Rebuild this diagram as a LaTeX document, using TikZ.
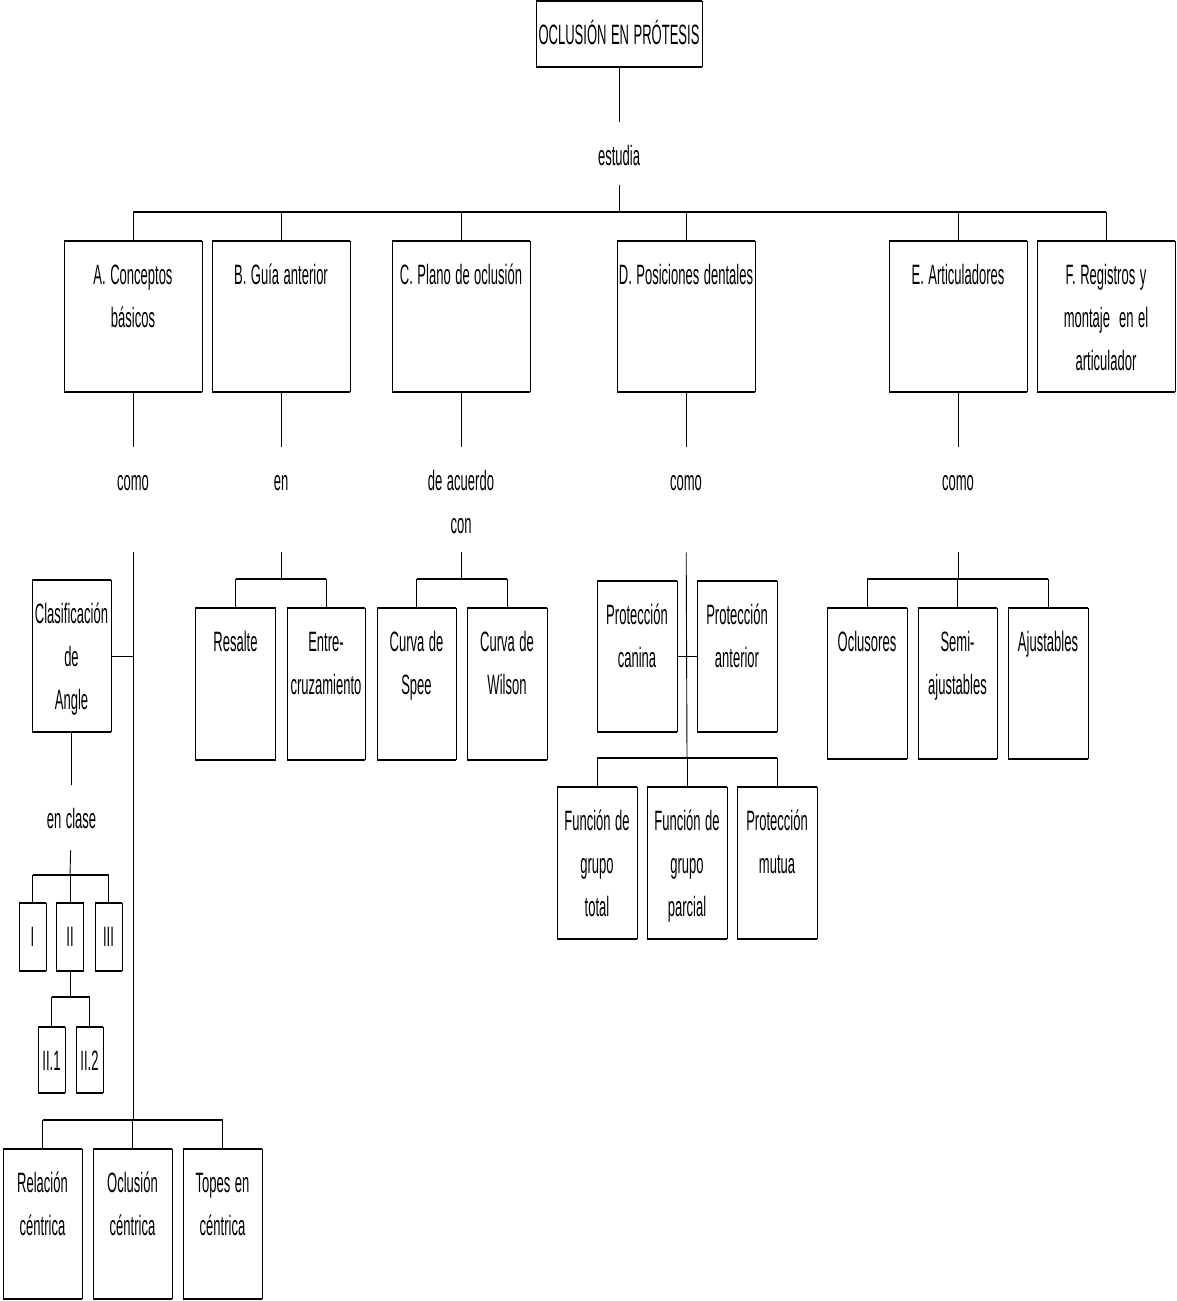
\documentclass[tikz,border=0pt]{standalone}
\usepackage{fontspec}
\setmainfont{Liberation Sans}[FakeStretch=0.465]
\newcommand{\letra}{\fontsize{28}{43}\selectfont\spaceskip=4.5pt plus 1pt\relax}

\begin{document}
\begin{tikzpicture}[x=1pt, y=-1pt,
  font=\letra,
  fino/.style={line width=0.9pt},
  grueso/.style={line width=2.6pt},
  caja/.style 2 args={draw, line width=0.9pt, anchor=north, inner sep=0pt,
    text width=#1, align=flush center, text height=43pt, text depth=#2},
  rotulo/.style={anchor=north, inner sep=0pt, text width=120pt, align=flush center,
    text height=43pt, text depth=#1}]
  \useasboundingbox (0,0) rectangle (1176,1301);

  % Titulo
  \node[caja={166pt}{22pt}] (oclusion) at (619,1) {OCLUSIÓN EN PRÓTESIS};
  \node[rotulo=20pt] (estudia) at (619,122) {estudia};
  \coordinate (b0) at (619,212);

  % Temas A--F
  \node[caja={138pt}{107pt}] (concA) at (133,241) {A. Conceptos\\básicos};
  \node[caja={138pt}{107pt}] (guiaB) at (281,241) {B. Guía anterior};
  \node[caja={138pt}{107pt}] (planoC) at (461,241) {C. Plano de oclusión};
  \node[caja={138pt}{107pt}] (posD) at (686,241) {D. Posiciones dentales};
  \node[caja={138pt}{107pt}] (artE) at (958,241) {E. Articuladores};
  \node[caja={138pt}{107pt}] (regF) at (1106,241) {F. Registros y\\montaje\ \ en el\\articulador};

  \node[rotulo=62pt] (comoA) at (133,447) {como};
  \node[rotulo=62pt] (enB) at (281,447) {en};
  \node[rotulo=62pt] (acuerdoC) at (461,447) {de acuerdo\\con};
  \node[rotulo=62pt] (comoD) at (686,447) {como};
  \node[rotulo=62pt] (comoE) at (958,447) {como};

  % A. Conceptos basicos
  \node[caja={79pt}{108pt}] (angle) at (71.5,580) {Clasificación\\de\\Angle};
  \node[rotulo=22pt] (clase) at (71.5,785) {en clase};
  \coordinate (b1) at (70,875);
  \node[caja={27pt}{24pt}] (c1) at (32.5,903) {I};
  \node[caja={27pt}{24pt}] (c2) at (70,903) {II};
  \node[caja={27pt}{24pt}] (c3) at (108.5,903) {III};
  \coordinate (b2) at (70,997);
  \node[caja={27pt}{22pt}] (c21) at (51.5,1027) {II.1};
  \node[caja={27pt}{22pt}] (c22) at (89.5,1027) {II.2};
  \coordinate (b3) at (133,1120);
  \node[caja={79pt}{106pt}] (relacion) at (42.5,1149) {Relación\\céntrica};
  \node[caja={79pt}{106pt}] (ocluc) at (132.5,1149) {Oclusión\\céntrica};
  \node[caja={79pt}{106pt}] (topes) at (222.5,1149) {Topes en\\céntrica};

  % B. Guia anterior
  \coordinate (b4) at (281,579);
  \node[caja={80pt}{108pt}] (resalte) at (235.5,608) {Resalte};
  \node[caja={78pt}{108pt}] (entre) at (326,608) {Entre-\\cruzamiento};

  % C. Plano de oclusion
  \coordinate (b5) at (461,579);
  \node[caja={79pt}{108pt}] (spee) at (416.5,608) {Curva de\\Spee};
  \node[caja={80pt}{108pt}] (wilson) at (507,608) {Curva de\\Wilson};

  % D. Posiciones dentales
  \node[caja={80pt}{107pt}] (canina) at (637,581) {Protección\\canina};
  \node[caja={80pt}{107pt}] (anterior) at (737,581) {Protección\\anterior};
  \coordinate (b6) at (687,758);
  \node[caja={80pt}{108pt}] (total) at (597,787) {Función de\\grupo\\total};
  \node[caja={80pt}{108pt}] (parcial) at (687,787) {Función de\\grupo\\parcial};
  \node[caja={80pt}{108pt}] (mutua) at (777,787) {Protección\\mutua};

  % E. Articuladores
  \coordinate (b7) at (958,579);
  \node[caja={80pt}{107pt}] (oclusores) at (867,608) {Oclusores};
  \node[caja={79pt}{107pt}] (semi) at (957.5,608) {Semi-\\ajustables};
  \node[caja={80pt}{107pt}] (ajust) at (1048,608) {Ajustables};

  % conectores
  \draw[fino] (oclusion) -- (estudia) (estudia) -- (b0);
  \draw[grueso] (b0 -| concA.north) -- (b0 -| regF.north);
  \foreach \n in {concA,guiaB,planoC,posD,artE,regF}
    \draw[fino] (b0 -| \n.north) -- (\n.north);
  \foreach \a/\b in {concA/comoA,guiaB/enB,planoC/acuerdoC,posD/comoD,artE/comoE}
    \draw[fino] (\a) -- (\b);

  \draw[fino] (comoA) -- (b3);
  \draw[fino] (angle) -- (angle -| b3);
  \draw[fino] (angle) -- (clase) (clase) -- (b1);
  \draw[grueso] (b1 -| c1.north) -- (b1 -| c3.north);
  \foreach \n in {c1,c2,c3}
    \draw[fino] (b1 -| \n.north) -- (\n.north);
  \draw[fino] (c2) -- (b2);
  \draw[grueso] (b2 -| c21.north) -- (b2 -| c22.north);
  \foreach \n in {c21,c22}
    \draw[fino] (b2 -| \n.north) -- (\n.north);
  \draw[grueso] (b3 -| relacion.north) -- (b3 -| topes.north);
  \foreach \n in {relacion,ocluc,topes}
    \draw[fino] (b3 -| \n.north) -- (\n.north);

  \draw[fino] (enB) -- (b4);
  \draw[grueso] (b4 -| resalte.north) -- (b4 -| entre.north);
  \foreach \n in {resalte,entre}
    \draw[fino] (b4 -| \n.north) -- (\n.north);

  \draw[fino] (acuerdoC) -- (b5);
  \draw[grueso] (b5 -| spee.north) -- (b5 -| wilson.north);
  \foreach \n in {spee,wilson}
    \draw[fino] (b5 -| \n.north) -- (\n.north);

  \draw[fino] (comoD) -- (b6);
  \draw[fino] (canina) -- (anterior);
  \draw[grueso] (b6 -| total.north) -- (b6 -| mutua.north);
  \foreach \n in {total,parcial,mutua}
    \draw[fino] (b6 -| \n.north) -- (\n.north);

  \draw[fino] (comoE) -- (b7);
  \draw[grueso] (b7 -| oclusores.north) -- (b7 -| ajust.north);
  \foreach \n in {oclusores,semi,ajust}
    \draw[fino] (b7 -| \n.north) -- (\n.north);

  % bordes gruesos arriba y abajo
  \foreach \n in {oclusion,concA,guiaB,planoC,posD,artE,regF,angle,c1,c2,c3,c21,c22,
      relacion,ocluc,topes,resalte,entre,spee,wilson,canina,anterior,total,parcial,mutua,
      oclusores,semi,ajust}
    \draw[grueso] (\n.north west) -- (\n.north east) (\n.south west) -- (\n.south east);
\end{tikzpicture}
\end{document}
